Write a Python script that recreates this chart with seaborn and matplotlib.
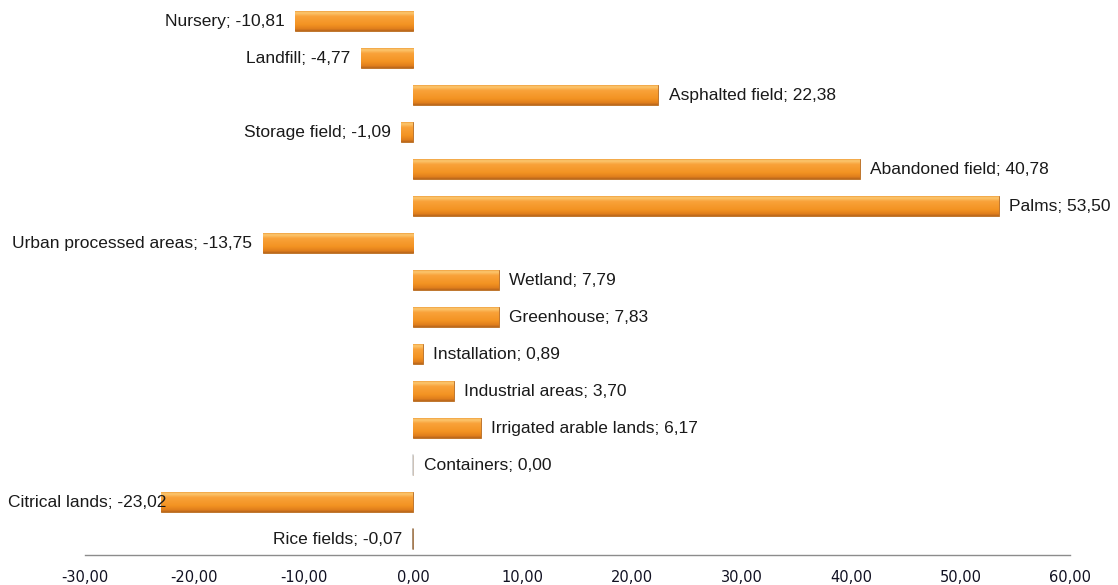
import numpy as np
import pandas as pd
import matplotlib
matplotlib.use("Agg")
import matplotlib.pyplot as plt
import seaborn as sns
from matplotlib.colors import LinearSegmentedColormap

categories = ["Nursery", "Landfill", "Asphalted field", "Storage field", "Abandoned field",
              "Palms", "Urban processed areas", "Wetland", "Greenhouse", "Installation",
              "Industrial areas", "Irrigated arable lands", "Containers", "Citrical lands",
              "Rice fields"]
values = [-10.81, -4.77, 22.38, -1.09, 40.78, 53.50, -13.75, 7.79, 7.83, 0.89,
          3.70, 6.17, 0.00, -23.02, -0.07]
xticks = [-30, -20, -10, 0, 10, 20, 30, 40, 50, 60]

df = pd.DataFrame({"category": categories, "value": values})

sns.set_theme(style="white")
plt.rcParams["font.family"] = ["Liberation Sans", "DejaVu Sans"]

fig = plt.figure(figsize=(11.18, 5.85), dpi=100)
ax = fig.add_axes([85 / 1118, 30 / 585, (1070 - 85) / 1118, 552.5 / 585])

sns.barplot(data=df, x="value", y="category", order=categories, orient="h",
            color="#F39322", width=0.55, edgecolor="#B86A1E", linewidth=0.6,
            ax=ax, zorder=2)

grad = LinearSegmentedColormap.from_list(
    "bar", [(0.0, "#E98A24"), (0.12, "#FCC870"), (0.3, "#F9A23A"),
            (0.7, "#F39322"), (0.9, "#E07F1C"), (1.0, "#B8661C")])
gimg = np.linspace(0, 1, 64).reshape(-1, 1)
for p in list(ax.patches):
    x0, y0 = p.get_x(), p.get_y()
    w, h = p.get_width(), p.get_height()
    if abs(w) < 1e-9:
        continue
    im = ax.imshow(gimg, cmap=grad, aspect="auto", interpolation="bilinear",
                   extent=[min(x0, x0 + w), max(x0, x0 + w), y0 + h, y0],
                   zorder=2.5, origin="upper")
    im.set_clip_path(p)

# zero-width bars as thin lines
for i, v in enumerate(values):
    if abs(v) < 0.2:
        col = "#D0D0D0" if v == 0 else "#9C7A5A"
        ax.plot([0, 0], [i - 0.275, i + 0.275], color=col, lw=1.2, zorder=3)

ax.set_xlim(-30, 60)
ax.set_ylim(14.43, -0.5)
ax.set_xticks(xticks)
ax.set_xticklabels([f"{t:.2f}".replace(".", ",") for t in xticks],
                   family="DejaVu Sans", fontsize=10.5, color="#111122")
ax.set_yticks([])
ax.set_xlabel("")
ax.set_ylabel("")
ax.tick_params(axis="x", length=0, pad=11)
for s in ["top", "right", "left"]:
    ax.spines[s].set_visible(False)
ax.spines["bottom"].set_color("#8C8C8C")
ax.spines["bottom"].set_linewidth(1.0)

fig.canvas.draw()
renderer = fig.canvas.get_renderer()
for i, (c, v) in enumerate(zip(categories, values)):
    txt = f"{c}; {v:.2f}".replace(".", ",")
    if v >= 0:
        t = ax.annotate(txt, xy=(v, i), xytext=(7.5, 0),
                        textcoords="offset points", ha="left", va="center",
                        fontsize=12.5, color="#1a1a1a", zorder=4)
    else:
        t = ax.annotate(txt, xy=(v, i), xytext=(-7.5, 0), textcoords="offset points",
                        ha="right", va="center", fontsize=12.5, color="#1a1a1a", zorder=4)
        bb = t.get_window_extent(renderer)
        if bb.x0 < 8:
            t.set_position((-7.5 + (8 - bb.x0) * 72 / fig.dpi, 0))

fig.savefig("out.png", dpi=100)
